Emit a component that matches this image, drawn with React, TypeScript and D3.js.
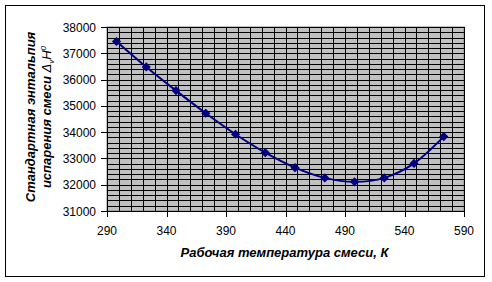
import React from "react";
import * as d3 from "d3";

const temps = [298, 323, 348, 373, 398, 423, 448, 473, 498, 523, 548, 573];
const enthalpy = [37450, 36480, 35580, 34720, 33920, 33220, 32650, 32260, 32110, 32260, 32810, 33830];
const xTicks = [290, 340, 390, 440, 490, 540, 590];
const yTicks = [31000, 32000, 33000, 34000, 35000, 36000, 37000, 38000];
const xTitle = "Рабочая температура смеси, К";
const yTitle1 = "Стандартная энтальпия";
const yTitle2 = "испарения смеси ";

const W = 492;
const H = 282;
const L = 107, R = 464, T = 27, B = 211;

export default function App() {
  const x = d3.scaleLinear().domain([290, 590]).range([L, R]);
  const y = d3.scaleLinear().domain([31000, 38000]).range([B, T]);
  const xMinor = d3.range(290, 591, 10);
  const yMinor = d3.range(31000, 38001, 200);
  const data = temps.map((t, i) => [t, enthalpy[i]] as [number, number]);
  const line = d3
    .line<[number, number]>()
    .x((d) => x(d[0]))
    .y((d) => y(d[1]))
    .curve(d3.curveCardinal.tension(0));
  const marker = d3.symbol().type(d3.symbolSquare).size(30)() as string;
  const font = "'Liberation Sans', Arial, sans-serif";
  const cy = (T + B) / 2;
  return (
    <svg
      width={W}
      height={H}
      style={{ position: "absolute", left: 0, top: 0, background: "#fff" }}
      fontFamily={font}
    >
      <rect x={5.5} y={5.5} width={479} height={271} fill="#fff" stroke="#000" strokeWidth={1} />
      <rect x={L} y={T} width={R - L} height={B - T} fill="#c0c0c0" stroke="#808080" strokeWidth={1} />
      {xMinor.map((v) => (
        <line key={"vx" + v} x1={Math.round(x(v)) + 0.5} x2={Math.round(x(v)) + 0.5} y1={T} y2={B} stroke="#000" strokeWidth={1} />
      ))}
      {yMinor.map((v) => (
        <line key={"hy" + v} x1={L} x2={R} y1={Math.round(y(v)) + 0.5} y2={Math.round(y(v)) + 0.5} stroke="#000" strokeWidth={1} />
      ))}
      <line x1={L + 0.5} x2={L + 0.5} y1={T} y2={B + 0.5} stroke="#000" />
      <line x1={L} x2={R} y1={B + 0.5} y2={B + 0.5} stroke="#000" />
      {yTicks.map((v) => (
        <g key={"yt" + v}>
          <line x1={L - 6} x2={L} y1={Math.round(y(v)) + 0.5} y2={Math.round(y(v)) + 0.5} stroke="#000" />
          <text x={L - 11} y={y(v) + 4.5} fontSize={12} textAnchor="end" fill="#000">
            {v}
          </text>
        </g>
      ))}
      {xTicks.map((v) => (
        <g key={"xt" + v}>
          <line x1={Math.round(x(v)) + 0.5} x2={Math.round(x(v)) + 0.5} y1={B} y2={B + 6} stroke="#000" />
          <text x={x(v)} y={235} fontSize={12} textAnchor="middle" fill="#000">
            {v}
          </text>
        </g>
      ))}
      <path d={line(data) as string} fill="none" stroke="#000080" strokeWidth={2} />
      {data.map((d, i) => (
        <path
          key={"m" + i}
          d={marker}
          transform={`translate(${x(d[0])},${y(d[1])}) rotate(45)`}
          fill="#000080"
          stroke="#000080"
          strokeWidth={1}
        />
      ))}
      <text x={(L + R) / 2 - 1} y={257} fontSize={13} fontWeight="bold" fontStyle="italic" textAnchor="middle" fill="#000">
        {xTitle}
      </text>
      <text
        transform={`translate(35,${cy - 2}) rotate(-90)`}
        fontSize={13}
        fontWeight="bold"
        fontStyle="italic"
        textAnchor="middle"
        fill="#000"
      >
        {yTitle1}
      </text>
      <text
        transform={`translate(51,${cy - 2}) rotate(-90)`}
        fontSize={13}
        fontWeight="bold"
        fontStyle="italic"
        textAnchor="middle"
        fill="#000"
      >
        {yTitle2}
        <tspan fontWeight="normal">Δ</tspan>
        <tspan fontSize={8} dy={3} fontWeight="normal">v</tspan>
        <tspan dy={-3} fontWeight="normal">H</tspan>
        <tspan fontSize={8} dy={-5} fontWeight="normal">0</tspan>
      </text>
    </svg>
  );
}
